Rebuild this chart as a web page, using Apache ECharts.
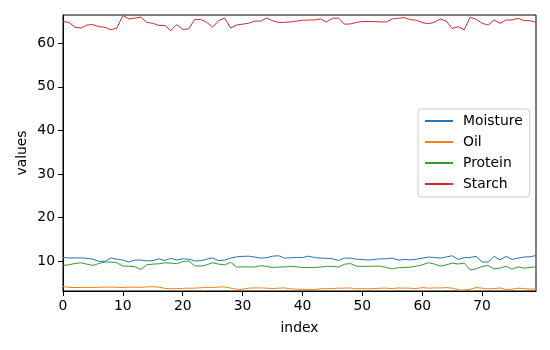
<!DOCTYPE html>
<html>
<head>
<meta charset="utf-8">
<script src="https://cdn.jsdelivr.net/npm/echarts@6/dist/echarts.min.js"></script>
<style>
  html, body { margin: 0; padding: 0; background: #fff; }
  #chart { width: 550px; height: 350px; }
</style>
</head>
<body>
<div id="chart"></div>
<script>
var seriesNames = ['Moisture', 'Oil', 'Protein', 'Starch'];
var colors = ['#1f77b4', '#ff7f0e', '#2ca02c', '#d62728'];

var moisture = [10.8, 10.7, 10.7, 10.7, 10.6, 10.4, 9.9, 9.9, 10.7, 10.4,
  10.2, 9.75, 10.2, 10.2, 10.05, 10.05, 10.5, 10.1, 10.6, 10.2,
  10.5, 10.4, 10.0, 10.05, 10.4, 10.7, 10.05, 10.2, 10.65, 10.95,
  11.05, 11.1, 10.9, 10.65, 10.75, 11.1, 11.2, 10.65, 10.75, 10.8,
  10.8, 11.1, 10.8, 10.65, 10.6, 10.5, 10.1, 10.65, 10.65, 10.4,
  10.35, 10.2, 10.35, 10.5, 10.5, 10.65, 10.2, 10.35, 10.25, 10.4,
  10.65, 10.9, 10.8, 10.65, 10.9, 11.2, 10.35, 10.75, 10.8, 11.05,
  9.75, 9.75, 11.05, 10.25, 11.05, 10.35, 10.65, 10.9, 10.95, 11.25];

var oil = [4.1, 3.95, 3.9, 3.9, 3.95, 3.9, 3.95, 4.0, 4.0, 3.95,
  3.9, 4.0, 3.95, 3.95, 4.05, 4.1, 4.0, 3.7, 3.6, 3.65,
  3.7, 3.75, 3.75, 3.85, 3.95, 3.9, 4.0, 4.05, 3.75, 3.5,
  3.5, 3.75, 3.8, 3.8, 3.75, 3.65, 3.75, 3.8, 3.6, 3.5,
  3.5, 3.45, 3.45, 3.6, 3.65, 3.65, 3.75, 3.75, 3.8, 3.6,
  3.65, 3.6, 3.65, 3.75, 3.75, 3.65, 3.8, 3.75, 3.75, 3.65,
  3.9, 3.75, 3.8, 3.8, 3.9, 3.75, 3.35, 3.35, 3.5, 3.9,
  3.75, 3.6, 3.65, 3.8, 3.45, 3.5, 3.75, 3.65, 3.5, 3.6];

var protein = [8.97, 9.12, 9.43, 9.58, 9.28, 8.97, 9.43, 9.74, 9.74, 9.58,
  8.81, 8.81, 8.66, 8.05, 9.12, 9.28, 9.35, 9.58, 9.5, 9.35,
  9.89, 9.97, 8.89, 8.81, 9.12, 9.58, 9.28, 9.1, 9.7, 8.6,
  8.65, 8.65, 8.6, 8.9, 8.75, 8.5, 8.6, 8.65, 8.75, 8.65,
  8.5, 8.5, 8.5, 8.6, 8.75, 8.75, 8.6, 9.25, 9.4, 8.8,
  8.75, 8.75, 8.8, 8.8, 8.5, 8.2, 8.45, 8.5, 8.6, 8.8,
  9.1, 9.6, 9.3, 8.8, 9.1, 9.5, 9.3, 9.5, 7.95, 8.2,
  8.75, 8.95, 8.2, 8.35, 8.8, 8.1, 8.65, 8.35, 8.5, 8.65];

var starch = [65.0, 64.8, 63.7, 63.5, 64.2, 64.3, 63.8, 63.7, 63.1, 63.5,
  66.4, 65.6, 65.8, 66.0, 64.8, 64.6, 64.1, 64.1, 62.9, 64.3,
  63.2, 63.3, 65.5, 65.5, 64.8, 63.7, 65.2, 65.8, 63.5, 64.2,
  64.4, 64.6, 65.1, 65.1, 65.8, 65.2, 64.8, 64.8, 64.9, 65.1,
  65.3, 65.35, 65.35, 65.6, 64.9, 65.75, 65.8, 64.4, 64.45, 64.8,
  65.0, 65.0, 65.0, 64.9, 64.9, 65.6, 65.75, 65.9, 65.45, 65.3,
  64.75, 64.5, 64.8, 65.6, 65.1, 63.4, 63.8, 63.1, 66.0, 65.5,
  64.6, 64.2, 65.35, 64.6, 65.35, 65.35, 65.75, 65.2, 65.2, 64.8];

var xTicks = [0, 10, 20, 30, 40, 50, 60, 70];
var yTicks = [10, 20, 30, 40, 50, 60];

var allValues = [moisture, oil, protein, starch];

var myChart = echarts.init(document.getElementById('chart'));

var font = 'DejaVu Sans';

var series = seriesNames.map(function (name, k) {
  return {
    name: name,
    type: 'line',
    symbol: 'none',
    data: allValues[k].map(function (v, i) { return [i, v]; }),
    lineStyle: { color: colors[k], width: 1 },
    itemStyle: { color: colors[k] }
  };
});

option = {
  animation: false,
  backgroundColor: '#fff',
  grid: {
    left: 63, right: 14, top: 15, bottom: 59,
    show: true, borderColor: '#000', borderWidth: 1,
    backgroundColor: 'transparent'
  },
  legend: {
    data: seriesNames,
    orient: 'vertical',
    left: 418,
    top: 109,
    padding: [5, 7, 6, 6],
    itemWidth: 28,
    itemHeight: 14,
    itemGap: 7,
    backgroundColor: 'rgba(255,255,255,0.8)',
    borderColor: '#cccccc',
    borderWidth: 1,
    borderRadius: 3,
    itemStyle: { opacity: 0 },
    textStyle: { fontFamily: font, fontSize: 13.9, color: '#000', padding: [0, 0, 0, 5] }
  },
  xAxis: {
    type: 'value',
    min: 0,
    max: 79,
    name: 'index',
    nameLocation: 'middle',
    nameGap: 30,
    nameMoveOverlap: false,
    nameTextStyle: { fontFamily: font, fontSize: 13.9, color: '#000' },
    axisLine: { show: true, lineStyle: { color: '#000', width: 1 } },
    axisTick: { show: true, length: 5, customValues: xTicks, lineStyle: { color: '#000' } },
    axisLabel: { customValues: xTicks, margin: 8, fontFamily: font, fontSize: 13.9, color: '#000' },
    splitLine: { show: false }
  },
  yAxis: {
    type: 'value',
    min: 3.1,
    max: 66.5,
    name: 'values',
    nameLocation: 'middle',
    nameGap: 34,
    nameMoveOverlap: false,
    nameTextStyle: { fontFamily: font, fontSize: 13.9, color: '#000' },
    axisLine: { show: true, lineStyle: { color: '#000', width: 1 } },
    axisTick: { show: true, length: 5, customValues: yTicks, lineStyle: { color: '#000' } },
    axisLabel: { customValues: yTicks, margin: 8, fontFamily: font, fontSize: 13.9, color: '#000' },
    splitLine: { show: false }
  },
  series: series
};

myChart.setOption(option);
</script>
</body>
</html>
